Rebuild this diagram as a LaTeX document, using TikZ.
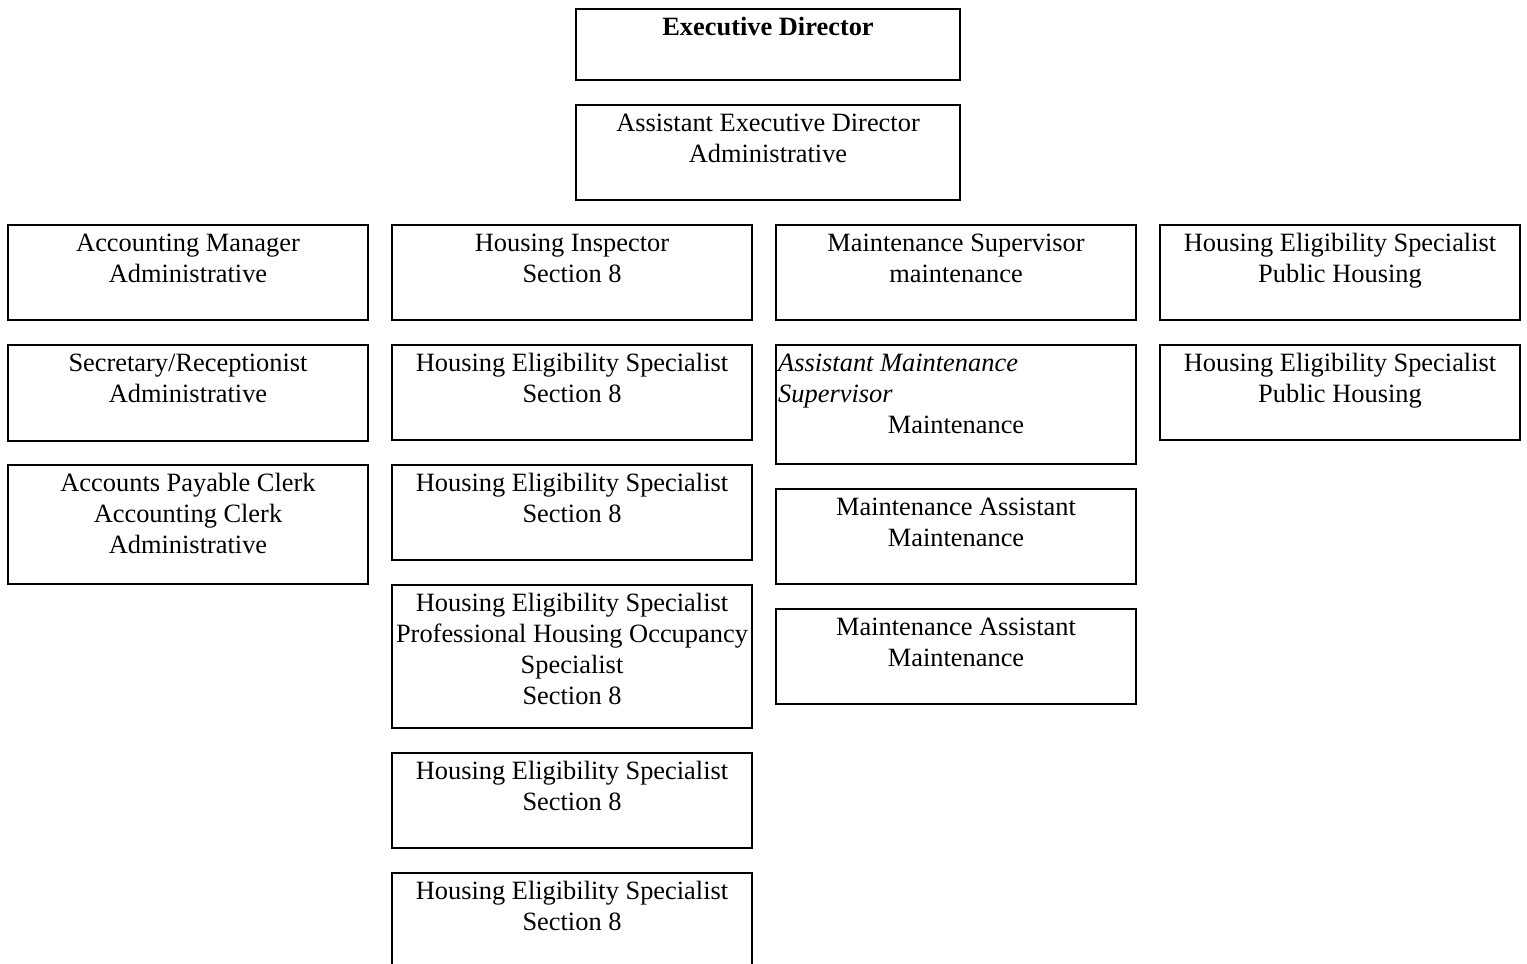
\documentclass[tikz,border=0pt]{standalone}
\usepackage{fontspec}
\setmainfont{Liberation Serif}
\begin{document}
\begin{tikzpicture}[x=1pt,y=-1pt,
  orgbox/.style={draw=black,line width=1.6pt,inner sep=0pt,outer sep=0pt},
  boxtext/.style={inner sep=0pt,align=center,anchor=north,font=\fontsize{26.4}{31}\selectfont},
  lefttext/.style={inner sep=0pt,align=left,anchor=north west,font=\fontsize{26.4}{31}\selectfont\itshape},
  plaintext/.style={inner sep=0pt,anchor=base,font=\fontsize{26.4}{31}\selectfont}]
\useasboundingbox (0,0) rectangle (1527,964);
\newcommand\orgbox[6]{%
  \node[orgbox,minimum width={(#4-#2)*1pt},minimum height={(#5-#3)*1pt}] (#1) at ({(#2+#4)/2},{(#3+#5)/2}) {};
  \node[boxtext] (#1-t) at ([yshift=-4.9pt]#1.north) {\strut #6};}
\orgbox{ed}{576}{9}{960}{80}{\textbf{Executive Director}}
\orgbox{aed}{576}{105}{960}{200}{Assistant Executive Director\\Administrative}
\orgbox{acm}{8}{225}{368}{320}{Accounting Manager\\Administrative}
\orgbox{sec}{8}{345}{368}{441}{Secretary/Receptionist\\Administrative}
\orgbox{apc}{8}{465}{368}{584}{Accounts Payable Clerk\\Accounting Clerk\\Administrative}
\orgbox{hi}{392}{225}{752}{320}{Housing Inspector\\Section 8}
\orgbox{hesa}{392}{345}{752}{440}{Housing Eligibility Specialist\\Section 8}
\orgbox{hesb}{392}{465}{752}{560}{Housing Eligibility Specialist\\Section 8}
\orgbox{hesc}{392}{585}{752}{728}{Housing Eligibility Specialist\\Professional Housing Occupancy\\Specialist\\Section 8}
\orgbox{hesd}{392}{753}{752}{848}{Housing Eligibility Specialist\\Section 8}
\orgbox{hese}{392}{873}{752}{1000}{Housing Eligibility Specialist\\Section 8}
\orgbox{ms}{776}{225}{1136}{320}{Maintenance Supervisor\\maintenance}
\node[orgbox,minimum width=360pt,minimum height=119pt] (ams) at (956,404.5) {};
\node[lefttext] (ams-t) at ([xshift=2pt,yshift=-4.9pt]ams.north west) {\strut Assistant Maintenance\\Supervisor};
\node[plaintext] (ams-m) at ([yshift=-88.6pt]ams.north) {Maintenance};
\orgbox{maa}{776}{489}{1136}{584}{Maintenance Assistant\\Maintenance}
\orgbox{mab}{776}{609}{1136}{704}{Maintenance Assistant\\Maintenance}
\orgbox{phsa}{1160}{225}{1520}{320}{Housing Eligibility Specialist\\Public Housing}
\orgbox{phsb}{1160}{345}{1520}{440}{Housing Eligibility Specialist\\Public Housing}
\end{tikzpicture}
\end{document}
